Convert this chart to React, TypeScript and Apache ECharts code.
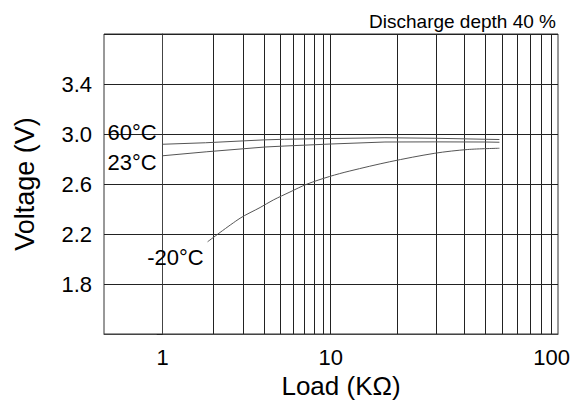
import React, { useEffect, useRef } from "react";
import * as echarts from "echarts";

const TITLE = "Discharge depth 40 %";
const X_NAME = "Load (KΩ)";
const Y_NAME = "Voltage (V)";

const X_TICK_LABELS = [1, 10, 100];
const X_GRID_VALUES = [1, 2, 3, 4, 5, 6, 7, 8, 9, 10, 20, 30, 40, 50, 60, 70, 80, 90, 100];
const X_MIN = 0.447;
const X_MAX = 106.8;

const Y_MIN = 1.4;
const Y_MAX = 3.8;
const Y_STEP = 0.4;
const Y_TICK_LABELS = [1.8, 2.2, 2.6, 3.0, 3.4];

const LOAD_60 = [1, 1.8, 4, 5.3, 10, 17.6, 29.6, 50, 58];
const VOLT_60 = [2.918, 2.93, 2.953, 2.958, 2.964, 2.97, 2.966, 2.958, 2.956];

const LOAD_23 = [1, 1.83, 4.06, 5.34, 10, 17.6, 29.6, 50, 58];
const VOLT_23 = [2.826, 2.858, 2.896, 2.904, 2.92, 2.936, 2.937, 2.936, 2.934];

const LOAD_M20 = [1.85, 2.885, 3.8, 4.55, 5.72, 7.19, 9.84, 12.2, 18.5, 29.6, 41.7, 58];
const VOLT_M20 = [2.138, 2.326, 2.412, 2.472, 2.536, 2.598, 2.66, 2.704, 2.778, 2.846, 2.876, 2.886];

const SERIES_NAMES = ["60°C", "23°C", "-20°C"];

// The printed scale: log decades, the second decade drawn wider than the first.
const SECOND_DECADE_STRETCH = 221 / 168;
const toU = (v: number) =>
  v <= 10 ? Math.log10(v) : 1 + SECOND_DECADE_STRETCH * Math.log10(v / 10);

const FONT = "'Liberation Sans', Arial, Helvetica, sans-serif";

function buildData(loads: number[], volts: number[], label: any) {
  return loads.map((l, i) => {
    const item: any = { value: [toU(l), volts[i]] };
    if (i === 0) item.label = label;
    return item;
  });
}

export default function App() {
  const ref = useRef<HTMLDivElement>(null);

  useEffect(() => {
    if (!ref.current) return;
    const chart = echarts.init(ref.current, null, { renderer: "svg" });
    const lineStyle = { color: "#555", width: 1 };
    const labelBase = {
      show: true,
      fontSize: 22,
      color: "#000",
      fontFamily: FONT,
    };
    const makeSeries = (name: string, loads: number[], volts: number[], label: any, smooth: number | boolean) => ({
      type: "line",
      name,
      data: buildData(loads, volts, { ...labelBase, ...label, formatter: name }),
      showSymbol: true,
      symbol: "circle",
      symbolSize: 0,
      smooth,
      lineStyle,
      itemStyle: { color: "#555" },
      label: { show: false },
      emphasis: { disabled: true },
      silent: true,
      z: 3,
    });

    chart.setOption({
      animation: false,
      backgroundColor: "#fff",
      title: {
        text: TITLE,
        right: 19,
        top: 7,
        textStyle: { fontSize: 19, fontWeight: "normal", color: "#000", fontFamily: FONT },
      },
      grid: {
        left: 104,
        right: 22,
        top: 34,
        bottom: 71,
        show: true,
        borderColor: "#333",
        borderWidth: 1,
        containLabel: false,
        outerBoundsMode: "none",
      },
      xAxis: {
        type: "value",
        min: toU(X_MIN),
        max: toU(X_MAX),
        name: X_NAME,
        nameLocation: "middle",
        nameGap: 36,
        nameTextStyle: { fontSize: 26, color: "#000", fontFamily: FONT, padding: [0, 0, 0, 20] },
        axisLine: { show: true, lineStyle: { color: "#444", width: 1 } },
        axisTick: { show: false, customValues: X_GRID_VALUES.map(toU) },
        axisLabel: {
          customValues: X_TICK_LABELS.map(toU),
          formatter: (u: number) => {
            let best = X_TICK_LABELS[0];
            X_TICK_LABELS.forEach((t) => {
              if (Math.abs(toU(t) - u) < Math.abs(toU(best) - u)) best = t;
            });
            return String(best);
          },
          fontSize: 22,
          color: "#000",
          fontFamily: FONT,
          margin: 12,
        },
        splitLine: { show: true, lineStyle: { color: "#222", width: 1 } },
      },
      yAxis: {
        type: "value",
        min: Y_MIN,
        max: Y_MAX,
        interval: Y_STEP,
        name: Y_NAME,
        nameLocation: "middle",
        nameGap: 66,
        nameTextStyle: { fontSize: 27, color: "#000", fontFamily: FONT, padding: [0, 0, 0, 0] },
        axisLine: { show: true, lineStyle: { color: "#444", width: 1 } },
        axisTick: { show: true, inside: false, length: 6, lineStyle: { color: "#222" } },
        axisLabel: {
          customValues: Y_TICK_LABELS,
          formatter: (v: number) => v.toFixed(1),
          fontSize: 22,
          color: "#000",
          fontFamily: FONT,
          margin: 12,
        },
        splitLine: { show: true, lineStyle: { color: "#222", width: 1 } },
      },
      series: [
        makeSeries(SERIES_NAMES[0], LOAD_60, VOLT_60, { position: "left", distance: 6, offset: [0, -12] }, false),
        makeSeries(SERIES_NAMES[1], LOAD_23, VOLT_23, { position: "left", distance: 6, offset: [0, 7] }, false),
        makeSeries(SERIES_NAMES[2], LOAD_M20, VOLT_M20, { position: "left", distance: 4, offset: [0, 16] }, 0.3),
      ],
    });
    return () => chart.dispose();
  }, []);

  return (
    <div
      ref={ref}
      style={{ position: "fixed", left: 0, top: 0, width: 580, height: 405, background: "#fff" }}
    />
  );
}
